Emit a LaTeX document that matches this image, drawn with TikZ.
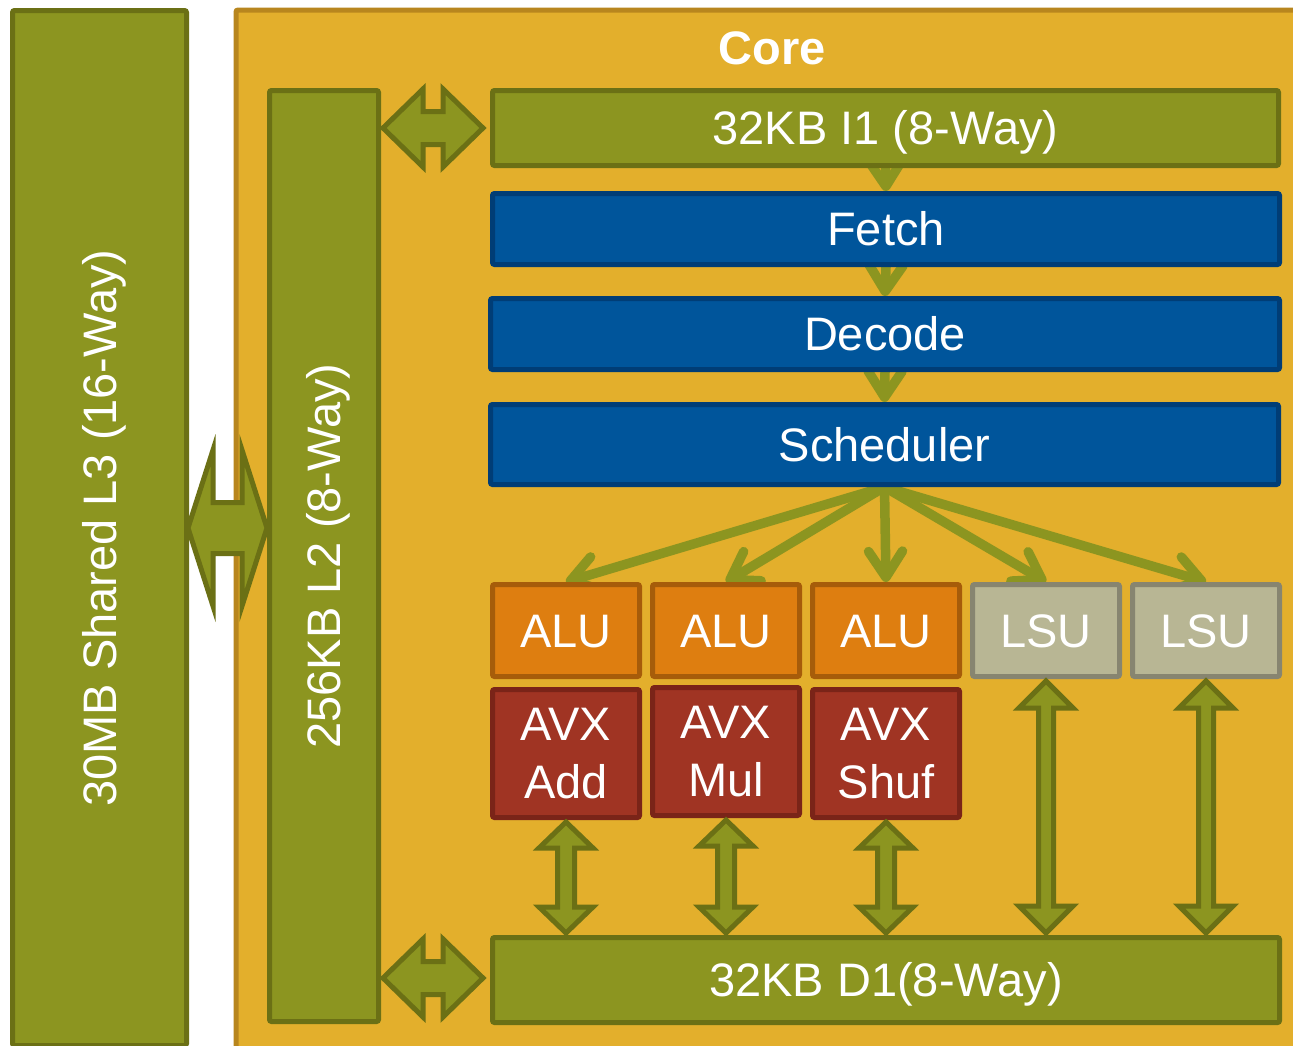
\documentclass[tikz,border=0pt]{standalone}
\usepackage{fontspec}
\setmainfont{Liberation Sans}
\usetikzlibrary{arrows.meta,calc}
\pgfdeclarelayer{bg}
\pgfdeclarelayer{mid}
\pgfsetlayers{bg,mid,main}
\definecolor{cOlive}{HTML}{8C9520}
\definecolor{cOliveDark}{HTML}{6B7015}
\definecolor{cCore}{HTML}{E3AF2C}
\definecolor{cCoreDark}{HTML}{B8861E}
\definecolor{cBlue}{HTML}{00559B}
\definecolor{cBlueDark}{HTML}{003D76}
\definecolor{cOrange}{HTML}{DE7E10}
\definecolor{cOrangeDark}{HTML}{A65C0A}
\definecolor{cLsu}{HTML}{B8B694}
\definecolor{cLsuDark}{HTML}{878570}
\definecolor{cRed}{HTML}{A03423}
\definecolor{cRedDark}{HTML}{7A2418}

% horizontal double block arrow: from, to, head length, head half width, shaft half width
\newcommand\harrow[5]{%
  \path[blk] let \p1=#1, \p2=#2 in
    (\x1,\y1) -- (\x1+#3,\y1+#4) -- (\x1+#3,\y1+#5) -- (\x2-#3,\y2+#5) -- (\x2-#3,\y2+#4)
    -- (\x2,\y2) -- (\x2-#3,\y2-#4) -- (\x2-#3,\y2-#5) -- (\x1+#3,\y1-#5) -- (\x1+#3,\y1-#4) -- cycle;}
% vertical double block arrow (from top to bottom)
\newcommand\varrow[5]{%
  \path[blk] let \p1=#1, \p2=#2 in
    (\x1,\y1) -- (\x1+#4,\y1-#3) -- (\x1+#5,\y1-#3) -- (\x2+#5,\y2+#3) -- (\x2+#4,\y2+#3)
    -- (\x2,\y2) -- (\x2-#4,\y2+#3) -- (\x2-#5,\y2+#3) -- (\x1-#5,\y1-#3) -- (\x1-#4,\y1-#3) -- cycle;}

\begin{document}
\begin{tikzpicture}[x=1pt,y=-1pt,
  box/.style={draw, line width=5pt, rounded corners=2pt, inner sep=0pt, text=white,
    font=\fontsize{47}{58}\selectfont, align=center},
  oneline/.style={text height=33.7pt, text depth=0pt},
  cache/.style={box, oneline, fill=cOlive, draw=cOliveDark},
  stage/.style={box, oneline, fill=cBlue, draw=cBlueDark},
  alu/.style={box, oneline, fill=cOrange, draw=cOrangeDark, minimum width=147pt, minimum height=92pt},
  lsu/.style={box, oneline, fill=cLsu, draw=cLsuDark, minimum width=147pt, minimum height=92pt},
  avx/.style={box, fill=cRed, draw=cRedDark, minimum width=147pt, minimum height=128pt},
  corebox/.style={draw=cCoreDark, fill=cCore, line width=5pt, rounded corners=2pt},
  title/.style={text=white, font=\fontsize{47}{58}\selectfont\bfseries, inner sep=0pt,
    text height=33.7pt, text depth=0pt},
  flow/.style={draw=cOlive, line width=9.5pt, line cap=round, line join=round,
    -{Straight Barb[length=26pt, width=34pt, round]}},
  blk/.style={fill=cOlive, draw=cOliveDark, line width=5pt, line join=miter}
]
\useasboundingbox (0,0) rectangle (1293,1045);

\begin{pgfonlayer}{bg}
\fill[white] (0,0) rectangle (1293,1045);
\node[corebox, minimum width=1074pt, minimum height=1050pt] (core) at (773,535) {};
\end{pgfonlayer}

\node[title] (coretitle) at (772,48) {Core};

\node[cache, rotate=90, minimum width=1035pt, minimum height=174pt] (l3) at (99.5,528) {30MB Shared L3 (16-Way)};
\node[cache, rotate=90, minimum width=931pt, minimum height=109pt] (l2) at (324,556) {256KB L2 (8-Way)};

\node[cache, minimum width=786pt, minimum height=75pt] (i1) at (885.5,128) {32KB I1 (8-Way)};
\node[stage, minimum width=787pt, minimum height=71pt] (fetch) at (886,229) {Fetch};
\node[stage, minimum width=789pt, minimum height=71pt] (decode) at (885,334) {Decode};
\node[stage, minimum width=788pt, minimum height=80pt] (sched) at (884.5,444.5) {Scheduler};

\node[alu] (alu1) at (566,630.5) {ALU};
\node[alu] (alu2) at (726,630.5) {ALU};
\node[alu] (alu3) at (886,630.5) {ALU};
\node[lsu] (lsu1) at (1046,630.5) {LSU};
\node[lsu] (lsu2) at (1206,630.5) {LSU};

\node[avx] (avx1) at (566,753.5) {AVX\\Add};
\node[avx] (avx2) at (726,751.5) {AVX\\Mul};
\node[avx] (avx3) at (886,753.5) {AVX\\Shuf};

\node[cache, minimum width=787pt, minimum height=85pt] (d1) at (886,980) {32KB D1(8-Way)};

\begin{pgfonlayer}{mid}
\draw[flow] (i1.south) -- (fetch.north);
\draw[flow] (fetch.south) -- (decode.north);
\draw[flow] (decode.south) -- (sched.north);
\foreach \t in {alu1,alu2,alu3,lsu1,lsu2}{
  \draw[flow] (sched.south) -- (\t.north);
}
\end{pgfonlayer}

% block arrows
\harrow{($(l3.south)+(-1,0)$)}{(l2.north |- l3.south)}{25pt}{78pt}{25.5pt}
\harrow{($(l2.south |- i1.west)+(2,0)$)}{($(i1.west)+(-7,0)$)}{40pt}{39pt}{16.5pt}
\harrow{($(l2.south |- d1.west)+(2,-2)$)}{($(d1.west)+(-7,-2)$)}{40pt}{39pt}{16.5pt}
\foreach \u in {avx1,avx2,avx3}{
  \varrow{($(\u.south)+(0,2)$)}{($(\u.south |- d1.north)+(0,-2)$)}{26pt}{27pt}{8.5pt}
}
\foreach \u in {lsu1,lsu2}{
  \varrow{($(\u.south)+(0,2)$)}{($(\u.south |- d1.north)+(0,-2)$)}{27pt}{27pt}{7.5pt}
}
\end{tikzpicture}
\end{document}
